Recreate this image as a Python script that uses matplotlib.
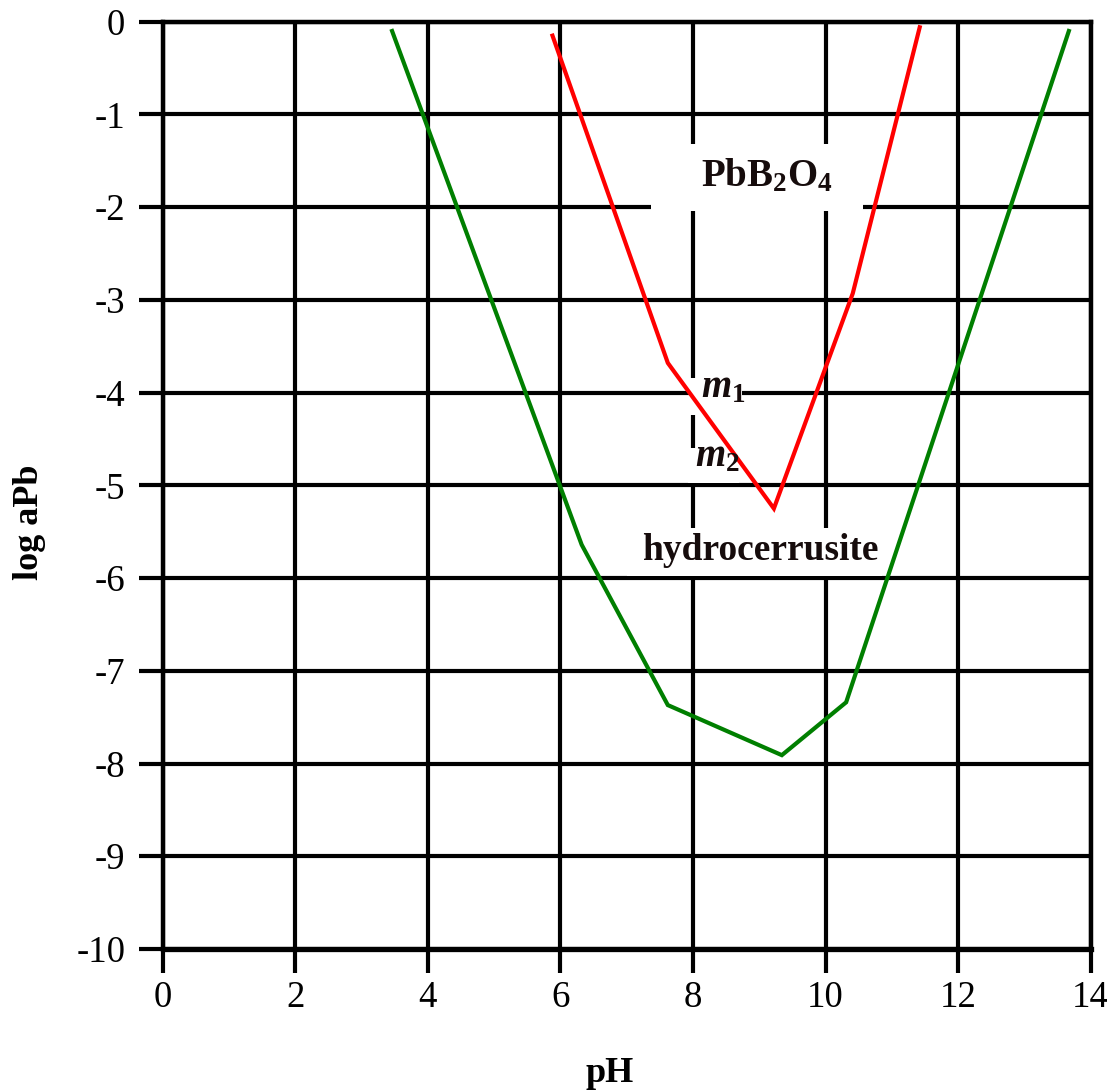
import matplotlib
matplotlib.use('Agg')
import matplotlib.pyplot as plt
from matplotlib.patches import Rectangle

# solubility boundaries, log a(Pb) against pH
hydrocerrusite_ph = [3.46, 6.32, 7.62, 9.34, 10.31, 13.67]
hydrocerrusite_loga = [-0.10, -5.64, -7.37, -7.91, -7.34, -0.10]

pbb2o4_ph = [5.88, 7.62, 9.22, 10.41, 11.42]
pbb2o4_loga = [-0.15, -3.68, -5.25, -2.93, -0.06]

x_ticks = [0, 2, 4, 6, 8, 10, 12, 14]
y_ticks = [0, -1, -2, -3, -4, -5, -6, -7, -8, -9, -10]

plt.rcParams['font.family'] = ['Liberation Serif', 'DejaVu Serif']
plt.rcParams['mathtext.fontset'] = 'custom'
plt.rcParams['mathtext.rm'] = 'Liberation Serif'
plt.rcParams['mathtext.bf'] = 'Liberation Serif:bold'
plt.rcParams['mathtext.it'] = 'Liberation Serif:italic:bold'

TXT = '#160c0c'


def white_box(ax, x0, x1, y0, y1):
    ax.add_patch(Rectangle((x0, y0), x1 - x0, y1 - y0, facecolor='white',
                           edgecolor='none', zorder=1))


if __name__ == '__main__':
    fig = plt.figure(figsize=(11.07, 10.92), dpi=100)
    ax = fig.add_axes([0.147, 0.131, 0.8383, 0.8491])

    ax.set_xlim(0, 14)
    ax.set_ylim(-10, 0)
    ax.set_xticks(x_ticks)
    ax.set_yticks(y_ticks)
    ax.set_xticklabels([str(t) for t in x_ticks])
    ax.set_yticklabels([str(t) for t in y_ticks])

    ax.set_axisbelow(True)
    ax.grid(True, color='black', lw=3)
    for side in ['left', 'right', 'top']:
        ax.spines[side].set_linewidth(3.2)
    ax.spines['bottom'].set_linewidth(3.8)

    ax.tick_params(axis='both', direction='out', length=17, width=3,
                   labelsize=26.5, colors='black')
    ax.tick_params(axis='x', pad=6)
    ax.tick_params(axis='y', pad=10)

    # label backgrounds that knock out the grid
    white_box(ax, 7.37, 10.57, -2.04, -1.32)
    white_box(ax, 7.95, 8.74, -4.24, -3.84)
    white_box(ax, 7.93, 8.70, -4.98, -4.60)
    white_box(ax, 7.00, 10.85, -5.98, -5.46)

    ax.plot(hydrocerrusite_ph, hydrocerrusite_loga, color='#007f00', lw=3,
            solid_joinstyle='miter', zorder=2)
    ax.plot(pbb2o4_ph, pbb2o4_loga, color='#ff0000', lw=3,
            solid_joinstyle='miter', zorder=2)

    ax.text(9.12, -1.77, r'$\mathbf{PbB_2O_4}$', fontsize=28, color=TXT,
            ha='center', va='baseline', zorder=3)
    ax.text(8.12, -4.05, r'$\mathit{m}_{\mathbf{1}}$', fontsize=28,
            color=TXT, ha='left', va='baseline', zorder=3)
    ax.text(8.03, -4.79, r'$\mathit{m}_{\mathbf{2}}$', fontsize=28,
            color=TXT, ha='left', va='baseline', zorder=3)
    ax.text(9.02, -5.81, 'hydrocerrusite', fontsize=27, fontweight='bold',
            color=TXT, ha='center', va='baseline', zorder=3)

    fig.text(610 / 1107, 1 - 1073 / 1092, 'pH', fontsize=26,
             fontweight='bold', ha='center', va='center')
    fig.text(30 / 1107, 1 - 522 / 1092, 'log aPb', fontsize=26,
             fontweight='bold', rotation=90, ha='center', va='center')

    fig.savefig('out.png', dpi=100)
    plt.close(fig)
